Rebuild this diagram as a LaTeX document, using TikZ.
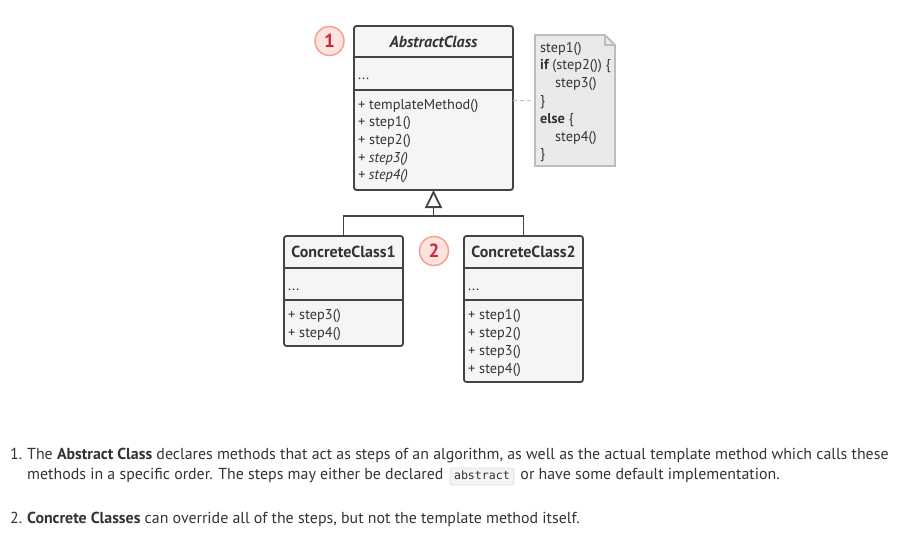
\documentclass[tikz,border=0pt]{standalone}
\usepackage{fontspec}
\setmainfont{PT Sans}
\setmonofont{DejaVu Sans Mono}
\usetikzlibrary{arrows.meta}
\definecolor{boxline}{HTML}{444444}
\definecolor{boxfill}{HTML}{F5F5F5}
\definecolor{notefill}{HTML}{EAEAEA}
\definecolor{noteline}{HTML}{BDBDBD}
\definecolor{badgefill}{HTML}{FDE3DE}
\definecolor{badgeline}{HTML}{F5A091}
\definecolor{badgetext}{HTML}{C8283C}
\definecolor{txt}{HTML}{333333}
\definecolor{codefill}{HTML}{F3F3F3}
\definecolor{codeline}{HTML}{E0E0E0}
\begin{document}
\begin{tikzpicture}[x=1pt,y=-1pt,
  classbox/.style={draw=boxline, fill=boxfill, line width=1.8pt, rounded corners=2.5pt,
    anchor=north west, inner sep=0pt, outer sep=0pt},
  sepline/.style={draw=boxline, line width=1.8pt},
  mtext/.style={anchor=base west, inner sep=0pt, font=\fontsize{14.3}{16}\selectfont, text=txt},
  ttext/.style={anchor=base, inner sep=0pt, font=\fontsize{16}{18}\selectfont\bfseries, text=txt},
  badge/.style={circle, draw=badgeline, fill=badgefill, line width=1.5pt, minimum size=29pt,
    inner sep=0pt, font=\fontsize{19}{19}\selectfont\bfseries, text=badgetext},
  notebox/.style={anchor=north west, inner sep=0pt, outer sep=0pt, minimum width=80pt, minimum height=131pt},
  link/.style={draw=boxline, line width=1.8pt},
  dashlink/.style={draw=noteline, line width=1.5pt, dash pattern=on 4pt off 3pt},
  btext/.style={anchor=base west, inner sep=0pt, font=\fontsize{15.9}{18}\selectfont, text=txt},
  codebox/.style={anchor=base west, inner xsep=4pt, inner ysep=0pt, text height=11pt, text depth=6pt,
    fill=codefill, draw=codeline, line width=0.8pt, rounded corners=2pt,
    font=\ttfamily\fontsize{11.6}{13}\selectfont, text=txt}
]
\useasboundingbox (0,0) rectangle (908,558);

% Abstract class
\node[classbox, minimum width=159pt, minimum height=164pt] (abs) at (354,26) {};
\draw[sepline] (354,57) -- (513,57);
\draw[sepline] (354,90) -- (513,90);
\node[ttext, font=\fontsize{16}{18}\selectfont\bfseries\itshape] (absname) at (433.5,47) {AbstractClass};
\node[mtext] (absf) at (358,79) {...};
\node[mtext] (am1) at (358,109) {+ templateMethod()};
\node[mtext] (am2) at (358,126.7) {+ step1()};
\node[mtext] (am3) at (358,144.4) {+ step2()};
\node[mtext] (am4) at (358,162.1) {\itshape + step3()};
\node[mtext] (am5) at (358,179.8) {\itshape + step4()};

% Note
\node[notebox] (note) at (535,35) {};
\draw[draw=noteline, fill=notefill, line width=1.8pt]
  (note.north west) -- ([xshift=-10pt]note.north east) -- ([yshift=-10pt]note.north east)
  -- (note.south east) -- (note.south west) -- cycle;
\draw[draw=noteline, line width=1.2pt]
  ([xshift=-10pt]note.north east) -- ([xshift=-10pt,yshift=-10pt]note.north east) -- ([yshift=-10pt]note.north east);
\node[mtext] (n1) at (540,52) {step1()};
\node[mtext] (n2) at (540,69.8) {\bfseries if\mdseries\ (step2()) \{};
\node[mtext] (n3) at (555,87.6) {step3()};
\node[mtext] (n4) at (540,105.4) {\}};
\node[mtext] (n5) at (540,123.2) {\bfseries else\mdseries\ \{};
\node[mtext] (n6) at (555,141) {step4()};
\node[mtext] (n7) at (540,158.8) {\}};
\draw[dashlink] (abs.east |- note.west) -- (note.west);

% Badges
\node[badge] (b1) at (329.5,41) {1};
\node[badge] (b2) at (434,251) {2};

% Concrete class 1
\node[classbox, minimum width=119pt, minimum height=110pt] (cc1) at (284,236) {};
\draw[sepline] (284,268) -- (403,268);
\draw[sepline] (284,300) -- (403,300);
\node[ttext] (cc1name) at (343.5,257.5) {ConcreteClass1};
\node[mtext] (cc1f) at (288,290) {...};
\node[mtext] (c1m1) at (288,319) {+ step3()};
\node[mtext] (c1m2) at (288,337) {+ step4()};

% Concrete class 2
\node[classbox, minimum width=119pt, minimum height=146pt] (cc2) at (464,236) {};
\draw[sepline] (464,268) -- (583,268);
\draw[sepline] (464,300) -- (583,300);
\node[ttext] (cc2name) at (523.5,257.5) {ConcreteClass2};
\node[mtext] (cc2f) at (468,290) {...};
\node[mtext] (c2m1) at (468,319) {+ step1()};
\node[mtext] (c2m2) at (468,337) {+ step2()};
\node[mtext] (c2m3) at (468,355) {+ step3()};
\node[mtext] (c2m4) at (468,373) {+ step4()};

% Inheritance
\coordinate (junc) at (433.5,216);
\draw[link] (cc1.north) |- (junc) -| (cc2.north);
\draw[link, -{Triangle[open, length=18pt, width=17pt, line width=1.8pt]}] (junc) -- (abs.south);

% Explanation text
\node[btext] (t1a) at (10,459) {1.};
\node[btext] (t1) at (27,459) {The \textbf{Abstract Class} declares methods that act as steps of an algorithm, as well as the actual template method which calls these};
\node[btext] (t2a) at (27,479) {methods in a specific order. The steps may either be declared};
\node[codebox] (code) at ([xshift=6pt]t2a.base east) {abstract};
\node[btext] (t2b) at ([xshift=6pt]code.base east) {or have some default implementation.};
\node[btext] (t3a) at (10,523) {2.};
\node[btext] (t3) at (27,523) {\textbf{Concrete Classes} can override all of the steps, but not the template method itself.};
\end{tikzpicture}
\end{document}
